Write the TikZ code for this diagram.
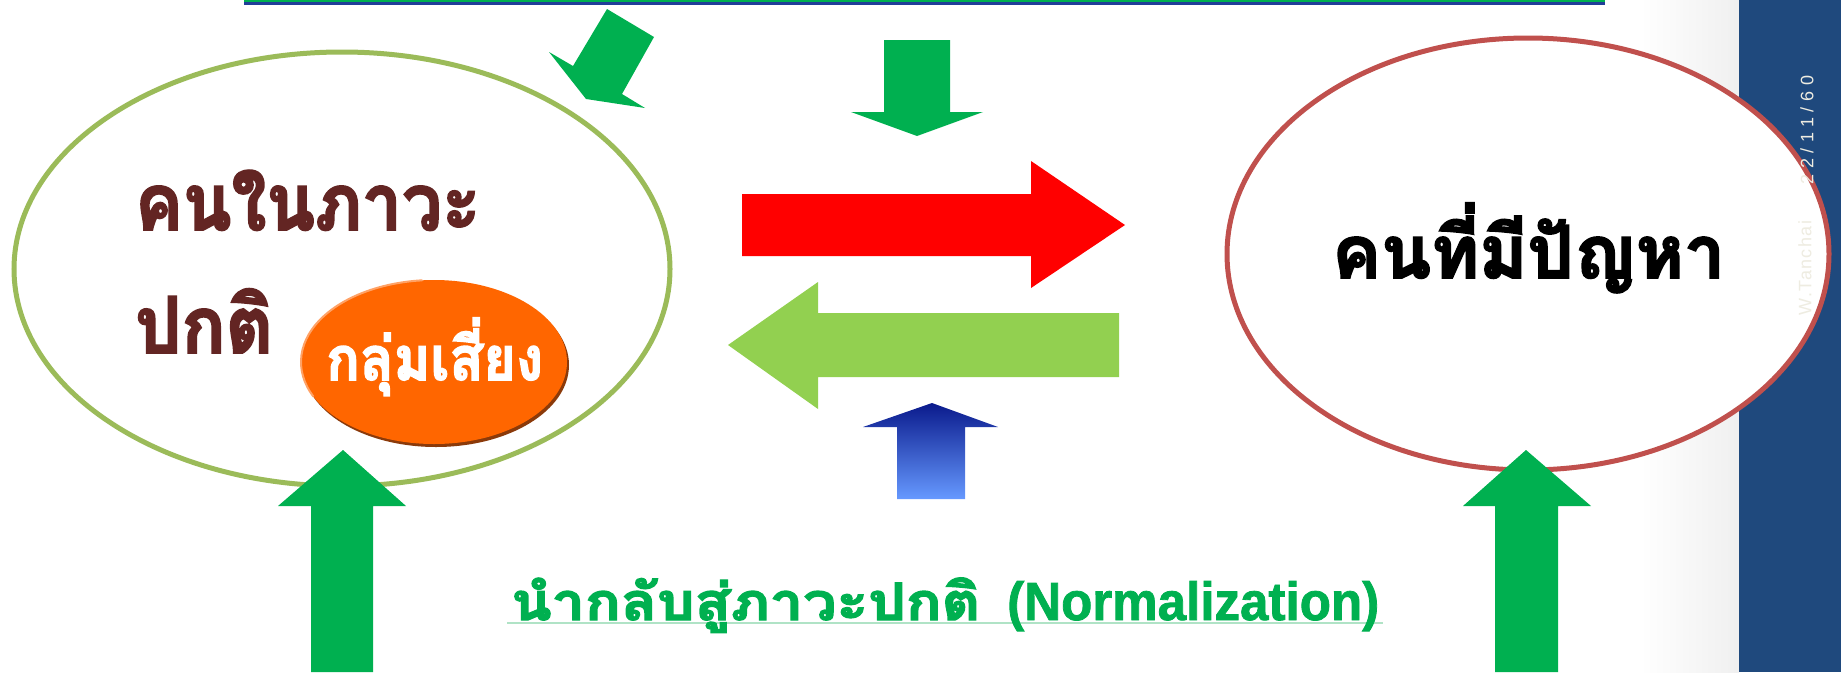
\documentclass[tikz,border=0pt]{standalone}
\usepackage{fontspec}
\usepackage{graphicx}
\newfontfamily\thai[Script=Thai, FakeBold=2.5]{Loma}
\newfontfamily\latinsans[FakeBold=1.5]{Liberation Sans}
\newfontfamily\datesans[LetterSpace=32]{Liberation Sans}
\newfontfamily\namesans[LetterSpace=8]{Liberation Sans}
\definecolor{olivegreen}{HTML}{9BBB59}
\definecolor{redring}{HTML}{C0504D}
\definecolor{maroon}{HTML}{632523}
\definecolor{orangefill}{HTML}{FF6600}
\definecolor{orangeshadow}{HTML}{8B3A0A}
\definecolor{orangerim}{HTML}{FFA266}
\definecolor{arrowred}{HTML}{FF0000}
\definecolor{lightgreen}{HTML}{92D050}
\definecolor{arrowgreen}{HTML}{00B050}
\definecolor{navytop}{HTML}{0A1A8C}
\definecolor{bluebottom}{HTML}{6699FF}
\definecolor{sidebar}{HTML}{1F497D}
\definecolor{topblue}{HTML}{213E98}
\definecolor{cream}{HTML}{EEECE1}
\definecolor{underlinegreen}{HTML}{B0E3C6}
% scale a text so that its width and its consonant height match given values
\newsavebox\fitbox
\newcommand\fitline[5]{%
  \sbox\fitbox{#1#5}%
  \begingroup#1%
    \ifdim\fontcharht\font#2>0pt \xdef\fitht{\the\fontcharht\font#2}%
    \else \xdef\fitht{\the\dimexpr 0.5em\relax}\fi
  \endgroup
  \pgfmathsetmacro\fitsx{#3/\the\wd\fitbox}%
  \pgfmathsetmacro\fitsy{#4/\fitht}%
  \scalebox{\fitsx}[\fitsy]{\usebox\fitbox}}
\newcommand\thaibold{\thai\bfseries\fontsize{80}{90}\selectfont}
\tikzset{
  ring/.style={line width=5pt, fill=white},
  label/.style={inner sep=0pt, anchor=base west},
  sidetext/.style={text=cream, rotate=90, inner sep=0pt},
}
\begin{document}
\begin{tikzpicture}[x=1pt, y=-1pt]
\useasboundingbox (0,0) rectangle (1841,672);
% background panels
\shade[left color=white, right color=black!6] (1640,0) rectangle (1739,672);
\fill[sidebar] (1739,0) rectangle (1841,672);
\fill[arrowgreen] (244,0) rectangle (1605,1.5);
\fill[topblue] (244,1.5) rectangle (1605,5);
% ellipses
\draw[ring, draw=olivegreen] (342,269) ellipse [x radius=328, y radius=217];
\draw[ring, draw=redring] (1528,254) ellipse [x radius=301, y radius=216];
% side texts
\node[sidetext, font=\datesans\fontsize{18}{20}\selectfont] (date) at (1807,130) {22/11/60};
\node[sidetext, font=\namesans\fontsize{18}{20}\selectfont] (author) at (1805,268) {W.Tanchai};
% main texts
\node[label, text=maroon] (normal1) at (135,230) {\fitline{\thaibold}{`น}{345}{44}{คนในภาวะ}};
\node[label, text=maroon] (normal2) at (135,353) {\fitline{\thaibold}{`น}{138}{44}{ปกติ}};
\node[label, text=black] (problem) at (1332,278) {\fitline{\thaibold}{`น}{393}{41}{คนที่มีปัญหา}};
% risk group ellipse
\fill[orangeshadow] (436,365) ellipse [x radius=133, y radius=82];
\fill[orangefill] (434,362) ellipse [x radius=133, y radius=82];
\draw[orangerim, line width=2pt] (434,362) ++(155:133 and 82) arc [start angle=155, end angle=265, x radius=133, y radius=82];
\node[label, text=white] (risk) at (326,380) {\fitline{\thaibold}{`น}{217}{34}{กลุ่มเสี่ยง}};
% horizontal arrows
\fill[arrowred] (742,194) -- (1031,194) -- (1031,161) -- (1125,225) -- (1031,288) -- (1031,256) -- (742,256) -- cycle;
\fill[lightgreen] (1119,313) -- (818,313) -- (818,282) -- (728,345) -- (818,409) -- (818,377) -- (1119,377) -- cycle;
% small arrows
\fill[arrowgreen] (884,40) -- (950,40) -- (950,112) -- (983,112) -- (917,136) -- (851,112) -- (884,112) -- cycle;
\fill[arrowgreen] (607,9) -- (654,37) -- (622,94) -- (645,108) -- (586,99) -- (549,52) -- (573,66) -- cycle;
\shade[top color=navytop, bottom color=bluebottom] (897,499) -- (897,427) -- (863,427) -- (932,403) -- (998,427) -- (965,427) -- (965,499) -- cycle;
% big up arrows
\fill[arrowgreen] (311,672) -- (311,506) -- (278,506) -- (343,450) -- (406,506) -- (373,506) -- (373,672) -- cycle;
\fill[arrowgreen] (1495,672) -- (1495,506) -- (1463,506) -- (1526,450) -- (1591,506) -- (1558,506) -- (1558,672) -- cycle;
% bottom caption
\coordinate (ulstart) at (507,623);
\coordinate (ulend) at (1383,623);
\draw[underlinegreen, line width=2.5pt] (ulstart) -- (ulend);
\node[label, text=arrowgreen] (caption) at (511,620) {\fitline{\thaibold}{`น}{469}{29}{นำกลับสู่ภาวะปกติ}};
\node[label, text=arrowgreen] (captionen) at (1007,620) {\fitline{\latinsans\bfseries\fontsize{52}{56}\selectfont}{`N}{372}{37}{(Normalization)}};
\end{tikzpicture}
\end{document}
